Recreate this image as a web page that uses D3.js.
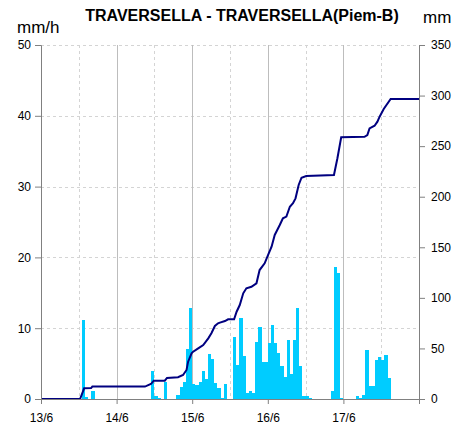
<!DOCTYPE html>
<html>
<head>
<meta charset="utf-8">
<script src="https://cdn.jsdelivr.net/npm/d3@7"></script>
<style>
  body { margin: 0; background: #fff; }
  text { font-family: "Liberation Sans", Arial, sans-serif; }
</style>
</head>
<body>
<script>
// hourly rainfall (mm/h), one array per day, hour 0..23
var rain13 = [0,0,0,0,0,0,0,0,0,0,0,0,0,11.2,0.3,0,1.2,0,0,0,0,0,0,0];
var rain14 = [0,0,0,0,0,0,0,0,0,0,0,3.9,0.4,0.2,0,2.4,0,0,0,0.6,1.7,2.4,7.1,12.9];
var rain15 = [2.1,2.0,2.4,3.9,2.8,6.4,5.6,2.2,1.5,0.1,2.1,0,0,8.8,4.8,11.5,6.1,0.8,1.2,0.9,8.1,10.2,5.2,5.2];
var rain16 = [7.9,10.5,7.9,6.5,4.6,3.1,8.3,3.6,8.3,12.8,4.6,0.4,0.4,0.2,0,0,0,0,0,0,1.2,18.6,17.8,0.1];
var rain17 = [0,0,0,0,0.4,0.1,0.6,6.9,1.8,1.8,5.5,5.9,5.5,6.2,3.0,0,0,0,0,0,0,0,0,0];

// cumulative rainfall (mm), read at hours since 13/6 00:00
var cumHours  = [0,12.4,13.7,15.9,16.3,33,34.9,35.8,39.3,40,43.5,45.1,46.2,46.7,47.8,48.3,49.9,51.5,53.1,54.1,55.2,56.2,56.8,58.4,59.4,61.3,62.1,63.1,64.2,65.2,66.8,68.4,69.4,71,72.1,73.2,74.2,75.8,76.8,77.9,79,80,80.8,81.8,82.7,84.2,93,94.1,95.3,102.7,103.6,104.3,105.9,106.8,107.5,108.8,111,120];
var cumValues = [0,0,10.6,10.8,12.3,12.3,14.8,18.1,18.1,20.8,21.5,23.7,28.7,36.9,45.2,46.8,50.1,53.4,60,65,72.2,74.8,75.5,77.1,78.8,78.8,86.3,92.9,104.5,109.5,111,114.4,127.5,134.2,142.4,150.6,162.2,172,178.7,180.3,190.1,193.5,198.4,211.6,218.8,220.5,221.5,238,258.7,259.3,261,267.6,270.2,274.2,279.1,286.7,296.6,296.6];

var dayLabels = ["13/6","14/6","15/6","16/6","17/6"];
var leftTicks = [0,10,20,30,40,50];
var rightTicks = [0,50,100,150,200,250,300,350];
var title = "TRAVERSELLA - TRAVERSELLA(Piem-B)";

var w = 452, h = 425;
var padLeft = 41, padRight = 419, padTop = 45, padBottom = 399;

var t0 = new Date(2008, 5, 13);
function hrs(n) { return new Date(t0.getTime() + n * 3600000); }

var rain = [].concat(rain13, rain14, rain15, rain16, rain17);

var xScale = d3.scaleTime()
  .domain([t0, hrs(120)])
  .range([padLeft, padRight]);

var yScale = d3.scaleLinear()
  .domain([0, 50])
  .range([padBottom, padTop]);

var y2Scale = d3.scaleLinear()
  .domain([0, 350])
  .range([padBottom, padTop]);

var svg = d3.select("body")
  .append("svg")
  .attr("width", w)
  .attr("height", h);

// horizontal dashed grid
svg.selectAll("line.hgrid")
  .data(leftTicks.slice(1))
  .enter()
  .append("line")
  .attr("class", "hgrid")
  .attr("x1", padLeft).attr("x2", padRight)
  .attr("y1", function(d) { return Math.round(yScale(d)) + 0.5; })
  .attr("y2", function(d) { return Math.round(yScale(d)) + 0.5; })
  .attr("stroke", "#d4d4d4")
  .attr("stroke-dasharray", "3,3");

// mid-day dashed grid
svg.selectAll("line.mgrid")
  .data(dayLabels)
  .enter()
  .append("line")
  .attr("class", "mgrid")
  .attr("x1", function(d, i) { return Math.round(xScale(hrs(i * 24 + 12))) + 0.5; })
  .attr("x2", function(d, i) { return Math.round(xScale(hrs(i * 24 + 12))) + 0.5; })
  .attr("y1", padTop).attr("y2", padBottom)
  .attr("stroke", "#d4d4d4")
  .attr("stroke-dasharray", "3,3");

// day grid
svg.selectAll("line.dgrid")
  .data(dayLabels.slice(1))
  .enter()
  .append("line")
  .attr("class", "dgrid")
  .attr("x1", function(d, i) { return Math.round(xScale(hrs((i + 1) * 24))) + 0.5; })
  .attr("x2", function(d, i) { return Math.round(xScale(hrs((i + 1) * 24))) + 0.5; })
  .attr("y1", padTop).attr("y2", padBottom)
  .attr("stroke", "#bdbdbd");

// bars
svg.selectAll("rect.bar")
  .data(rain)
  .enter()
  .append("rect")
  .attr("class", "bar")
  .attr("x", function(d, i) { return xScale(hrs(i)); })
  .attr("width", function(d, i) { return xScale(hrs(i + 1)) - xScale(hrs(i)); })
  .attr("y", function(d) { return yScale(d); })
  .attr("height", function(d) { return padBottom - yScale(d); })
  .attr("fill", "#00ccff")
  .attr("shape-rendering", "crispEdges");

// cumulative line
var line = d3.line()
  .x(function(d) { return xScale(hrs(d[0])); })
  .y(function(d) { return y2Scale(d[1]); });

svg.append("path")
  .datum(cumHours.map(function(d, i) { return [d, cumValues[i]]; }))
  .attr("d", line)
  .attr("fill", "none")
  .attr("stroke", "#000080")
  .attr("stroke-width", 2);

// axes
var xAxis = d3.axisBottom(xScale)
  .tickValues(dayLabels.map(function(d, i) { return hrs(i * 24); }))
  .tickFormat(function(d, i) { return dayLabels[i]; })
  .tickSize(5)
  .tickPadding(9);

var yAxis = d3.axisLeft(yScale).tickValues(leftTicks).tickSize(6).tickPadding(4);
var y2Axis = d3.axisRight(y2Scale).tickValues(rightTicks).tickSize(6).tickPadding(6);

var gx = svg.append("g")
  .attr("transform", "translate(0," + padBottom + ")")
  .call(xAxis);
var gy = svg.append("g")
  .attr("transform", "translate(" + padLeft + ",0)")
  .call(yAxis);
var gy2 = svg.append("g")
  .attr("transform", "translate(" + padRight + ",0)")
  .call(y2Axis);

[gx, gy, gy2].forEach(function(g) {
  g.select(".domain").attr("stroke", "#808080");
  g.selectAll(".tick line").attr("stroke", "#808080");
  g.selectAll(".tick text")
    .attr("fill", "#000")
    .style("font-size", "12px")
    .style("font-family", "'Liberation Sans', Arial, sans-serif");
});

// titles
svg.append("text")
  .attr("x", 242).attr("y", 21)
  .attr("text-anchor", "middle")
  .style("font-size", "16px")
  .style("font-weight", "bold")
  .text(title);

svg.append("text")
  .attr("x", 17).attr("y", 33)
  .style("font-size", "17px")
  .text("mm/h");

svg.append("text")
  .attr("x", 423).attr("y", 23)
  .style("font-size", "17px")
  .text("mm");
</script>
</body>
</html>
